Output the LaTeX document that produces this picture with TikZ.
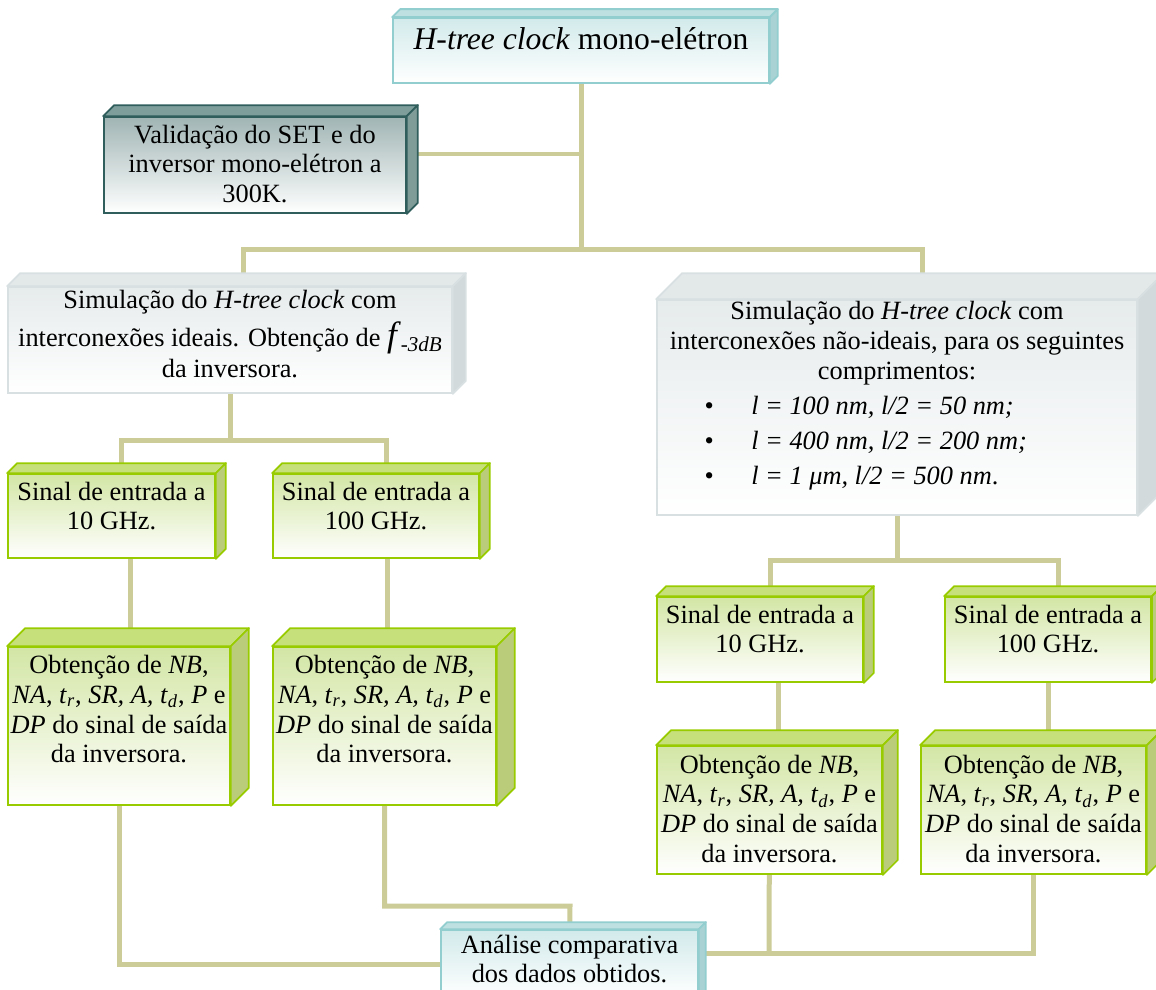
\documentclass[tikz,border=0pt]{standalone}
\usepackage{fontspec}
\setmainfont{Liberation Serif}
\usetikzlibrary{calc,backgrounds}

\definecolor{hFill}{RGB}{210,234,235}
\definecolor{hTop}{RGB}{190,224,225}
\definecolor{hSide}{RGB}{168,210,211}
\definecolor{hBord}{RGB}{146,205,208}
\definecolor{vFill}{RGB}{160,181,180}
\definecolor{vTop}{RGB}{125,158,155}
\definecolor{vSide}{RGB}{127,156,153}
\definecolor{vBord}{RGB}{47,94,92}
\definecolor{sFill}{RGB}{230,235,236}
\definecolor{sTop}{RGB}{227,232,233}
\definecolor{sSide}{RGB}{211,218,220}
\definecolor{sBord}{RGB}{216,224,226}
\definecolor{gFill}{RGB}{211,230,165}
\definecolor{gTop}{RGB}{198,224,124}
\definecolor{gSide}{RGB}{186,204,121}
\definecolor{gBord}{RGB}{153,204,0}
\definecolor{linkc}{RGB}{204,204,153}

\newcommand{\lenitem}[1]{\makebox[7.7cm][l]{\textbullet\hspace{0.75cm}\textit{#1}}}
\newcommand{\saida}{Obtenção de \textit{NB},\\\textit{NA}, \textit{t}\textsubscript{\textit{r}}, \textit{SR, A, t}\textsubscript{\textit{d}}, \textit{P} e\\\textit{DP} do sinal de saída\\da inversora.}

\begin{document}
\begin{tikzpicture}[x=0.02cm,y=-0.02cm,
  box/.style={draw,line width=1pt,inner sep=0pt,align=center,font=\fontsize{15}{17}\selectfont},
  hbox/.style={box,draw=hBord,top color=hFill,bottom color=white},
  vbox/.style={box,draw=vBord,top color=vFill,bottom color=white},
  sbox/.style={box,draw=sBord,top color=sFill,bottom color=white},
  gbox/.style={box,draw=gBord,top color=gFill,bottom color=white},
  lastbase/.style={text depth=0pt,text height=#1},
  link/.style={draw=linkc,line width=0.1cm}]
\useasboundingbox (0,0) rectangle (1156,990);

\node[hbox,text height=0pt,text depth=0.6pt,minimum width=7.52cm,minimum height=1.3cm,font=\fontsize{18}{21}\selectfont] (top) at (581,50.5) {\textit{H-tree clock} mono-elétron};
\node[vbox,lastbase=43pt,minimum width=6.04cm,minimum height=1.92cm] (valid) at (255,165) {Validação do SET e do\\inversor mono-elétron a\\300K.};
\node[sbox,lastbase=43pt,minimum width=8.88cm,minimum height=2.12cm] (simL) at (230,340) {Simulação do \textit{H-tree clock} com\\[3pt]interconexões ideais. Obtenção de {\fontsize{20}{17}\selectfont\textit{f}}\raisebox{-3pt}{\fontsize{12}{12}\selectfont\textit{-3dB}}\\[1pt]da inversora.};
\node[sbox,lastbase=88pt,minimum width=9.6cm,minimum height=4.3cm] (simR) at (897,407.5) {Simulação do \textit{H-tree clock} com\\interconexões não-ideais, para os seguintes\\comprimentos:\\[3pt]\lenitem{l = 100 nm, l/2 = 50 nm;}\\[3pt]\lenitem{l = 400 nm, l/2 = 200 nm;}\\[3pt]\lenitem{l = 1 μm, l/2 = 500 nm\upshape.}};

\node[gbox,lastbase=15.9pt,minimum width=4.14cm,minimum height=1.68cm] (sinL1) at (111.5,516) {Sinal de entrada a\\10 GHz.};
\node[gbox,lastbase=15.9pt,minimum width=4.12cm,minimum height=1.68cm] (sinL2) at (376,516) {Sinal de entrada a\\100 GHz.};
\node[gbox,lastbase=42pt,minimum width=4.44cm,minimum height=3.16cm] (obtL1) at (119,726) {\saida};
\node[gbox,lastbase=42pt,minimum width=4.46cm,minimum height=3.16cm] (obtL2) at (384.5,726) {\saida};

\node[gbox,lastbase=15.3pt,minimum width=4.12cm,minimum height=1.7cm] (sinR1) at (760,639.5) {Sinal de entrada a\\10 GHz.};
\node[gbox,lastbase=15.3pt,minimum width=4.12cm,minimum height=1.7cm] (sinR2) at (1048,639.5) {Sinal de entrada a\\100 GHz.};
\node[gbox,lastbase=60pt,minimum width=4.5cm,minimum height=2.56cm] (obtR1) at (769.5,810) {\saida};
\node[gbox,lastbase=60pt,minimum width=4.5cm,minimum height=2.56cm] (obtR2) at (1033.5,810) {\saida};

\node[hbox,lastbase=21.6pt,minimum width=5.14cm,minimum height=1.36cm] (anal) at (569.5,964) {Análise comparativa\\dos dados obtidos.};

% faces of the boxes
\foreach \n/\d/\ct/\cs/\cb in {top/8/hTop/hSide/hBord, valid/11/vTop/vSide/vBord,
  simL/13/sTop/sSide/sBord, simR/26/sTop/sSide/sBord,
  sinL1/10/gTop/gSide/gBord, sinL2/10/gTop/gSide/gBord,
  obtL1/18/gTop/gSide/gBord, obtL2/18/gTop/gSide/gBord,
  sinR1/10/gTop/gSide/gBord, sinR2/10/gTop/gSide/gBord,
  obtR1/15/gTop/gSide/gBord, obtR2/15/gTop/gSide/gBord, anal/7/hTop/hSide/hBord}
{
  \draw[fill=\ct,draw=\cb,line width=1pt,line join=round] (\n.north west) -- ++(\d,-\d) -- ($(\n.north east)+(\d,-\d)$) -- (\n.north east) -- cycle;
  \draw[fill=\cs,draw=\cb,line width=1pt,line join=round] (\n.north east) -- ++(\d,-\d) -- ($(\n.south east)+(\d,-\d)$) -- (\n.south east) -- cycle;
}

% connectors
\begin{scope}[on background layer]
\coordinate (jTop) at (581,249);
\coordinate (jValid) at (581,154);
\coordinate (jSimL) at (243,249);
\coordinate (jSimR) at (922,249);
\coordinate (jL) at (230,440);
\coordinate (jR) at (897,560);
\coordinate (jAn) at (570,906);
\coordinate (jRb) at (769,953);
\draw[link] (top) -- (jTop);
\draw[link] (jValid -| valid) -- (jValid);
\draw[link] (jSimL |- simL) -- (jSimL) -- (jSimR) -- (jSimR |- simR);
\draw[link] (simL) -- (jL);
\draw[link] ([xshift=0.2cm]sinL1.center) |- (jL) -| ([xshift=0.2cm]sinL2.center);
\draw[link] ([xshift=0.39cm]sinL1.center) -- ([xshift=0.39cm]sinL1.center |- obtL1.center);
\draw[link] ([xshift=0.23cm]sinL2.center) -- ([xshift=0.23cm]sinL2.center |- obtL2.center);
\draw[link] (obtL1) |- (anal);
\draw[link] (obtL2) |- (jAn) -- (anal);
\draw[link] (simR) -- (jR);
\draw[link] ([xshift=0.2cm]sinR1.center) |- (jR) -| ([xshift=0.2cm]sinR2.center);
\draw[link] ([xshift=0.36cm]sinR1.center) -- ([xshift=0.36cm]sinR1.center |- obtR1.center);
\draw[link] (sinR2) -- (sinR2 |- obtR2);
\draw[link] (obtR1) -- (jRb);
\draw[link] (obtR2) |- (jRb) -- (jRb -| anal);
\end{scope}
\end{tikzpicture}
\end{document}
